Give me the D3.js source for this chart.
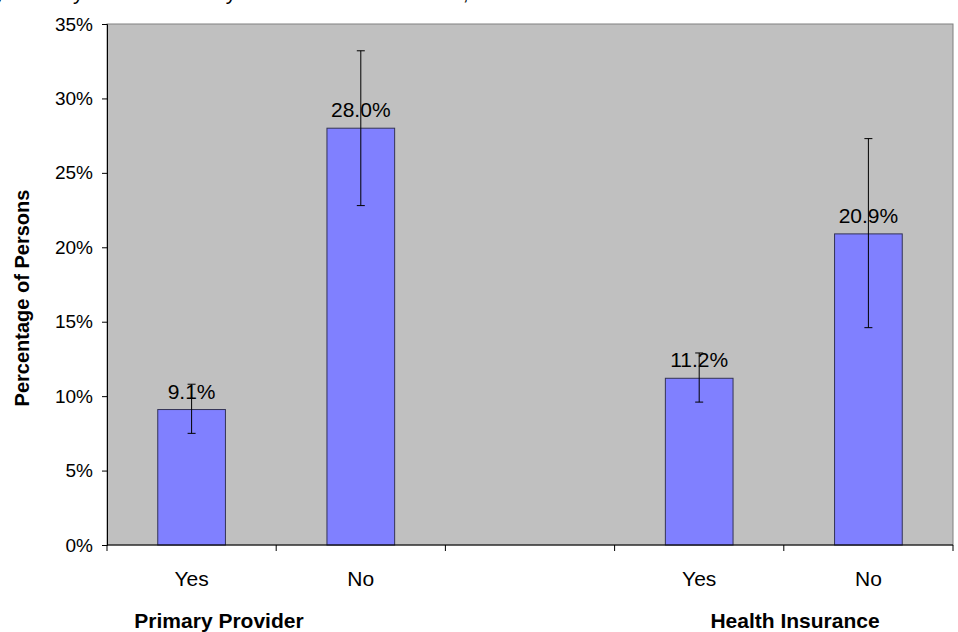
<!DOCTYPE html>
<html>
<head>
<meta charset="utf-8">
<script src="https://cdn.jsdelivr.net/npm/d3@7"></script>
<style>
  body { margin: 0; background: #fff; }
  text { font-family: Arial, "Liberation Sans", sans-serif; fill: #000; }
</style>
</head>
<body>
<script>
const width = 958
const height = 632

// data
const categories = ['ppYes', 'ppNo', 'gap', 'hiYes', 'hiNo']
const tickLabels = ['Yes', 'No', '', 'Yes', 'No']
const values = [9.1, 28.0, null, 11.2, 20.9]
const errLow = [7.5, 22.8, null, 9.6, 14.6]
const errHigh = [10.8, 33.2, null, 12.9, 27.3]
const groupLabels = ['Primary Provider', 'Health Insurance']
const yTicks = [0, 5, 10, 15, 20, 25, 30, 35]

const margin = {top: 24, right: 5, bottom: 87, left: 107}

const svg = d3.select('body')
    .append('svg')
    .attr('width', width)
    .attr('height', height)

const x = d3.scaleBand()
    .domain(categories)
    .range([margin.left, width - margin.right])
    .paddingInner(0.6)
    .paddingOuter(0.3)

const y = d3.scaleLinear()
    .domain([0, 35])
    .range([height - margin.bottom, margin.top])

// title, cut off at the top edge like the source image
svg.append('text')
    .attr('x', 527)
    .attr('y', 0)
    .attr('text-anchor', 'end')
    .style('font-size', '21px')
    .text('with a usual source of care, by Primary Provider and by Health Insurance status, 1999.')

// plot area
svg.append('rect')
    .attr('x', margin.left)
    .attr('y', margin.top)
    .attr('width', width - margin.right - margin.left)
    .attr('height', height - margin.bottom - margin.top)
    .attr('fill', '#c0c0c0')
    .attr('stroke', '#808080')
    .attr('stroke-width', 1)

// bars
const idx = d3.range(categories.length).filter(i => values[i] !== null)

svg.selectAll('rect.bar')
    .data(idx)
    .enter()
    .append('rect')
    .attr('class', 'bar')
    .attr('x', i => x(categories[i]))
    .attr('y', i => y(values[i]))
    .attr('width', x.bandwidth())
    .attr('height', i => y(0) - y(values[i]))
    .attr('fill', '#8080ff')
    .attr('stroke', '#333355')
    .attr('stroke-width', 1)

// data labels
svg.selectAll('text.lbl')
    .data(idx)
    .enter()
    .append('text')
    .attr('class', 'lbl')
    .attr('x', i => x(categories[i]) + x.bandwidth() / 2)
    .attr('y', i => y(values[i]) - 11)
    .attr('text-anchor', 'middle')
    .style('font-size', '21px')
    .text(i => values[i].toFixed(1) + '%')

// error bars
const err = svg.selectAll('g.err')
    .data(idx)
    .enter()
    .append('g')
    .attr('class', 'err')
    .attr('stroke', '#000')
    .attr('stroke-width', 1)

err.append('line')
    .attr('x1', i => x(categories[i]) + x.bandwidth() / 2)
    .attr('x2', i => x(categories[i]) + x.bandwidth() / 2)
    .attr('y1', i => y(errLow[i]))
    .attr('y2', i => y(errHigh[i]))

err.selectAll('line.cap')
    .data(i => [[i, errLow[i]], [i, errHigh[i]]])
    .enter()
    .append('line')
    .attr('class', 'cap')
    .attr('x1', d => x(categories[d[0]]) + x.bandwidth() / 2 - 4)
    .attr('x2', d => x(categories[d[0]]) + x.bandwidth() / 2 + 4)
    .attr('y1', d => y(d[1]))
    .attr('y2', d => y(d[1]))

// y axis
const yAxis = svg.append('g')
    .attr('transform', `translate(${margin.left},0)`)
    .call(d3.axisLeft(y).tickValues(yTicks).tickSize(5).tickFormat(d => d + '%'))

yAxis.select('.domain').attr('stroke', '#000')
yAxis.selectAll('.tick line').attr('stroke', '#000')
yAxis.selectAll('.tick text')
    .attr('x', -14)
    .style('font-size', '19px')
    .style('font-family', 'Arial, "Liberation Sans", sans-serif')

// x axis, ticks on category boundaries
const step = x.step()
const bounds = d3.range(categories.length + 1)
    .map(i => margin.left + i * step)

svg.append('line')
    .attr('x1', margin.left)
    .attr('x2', width - margin.right)
    .attr('y1', y(0))
    .attr('y2', y(0))
    .attr('stroke', '#000')

svg.selectAll('line.xtick')
    .data(bounds)
    .enter()
    .append('line')
    .attr('class', 'xtick')
    .attr('x1', d => d)
    .attr('x2', d => d)
    .attr('y1', y(0))
    .attr('y2', y(0) + 6)
    .attr('stroke', '#000')

svg.selectAll('text.xlab')
    .data(categories)
    .enter()
    .append('text')
    .attr('class', 'xlab')
    .attr('x', d => x(d) + x.bandwidth() / 2)
    .attr('y', 586)
    .attr('text-anchor', 'middle')
    .style('font-size', '21px')
    .text((d, i) => tickLabels[i])

// group titles
const groupX = [219, 795]
svg.selectAll('text.group')
    .data(groupLabels)
    .enter()
    .append('text')
    .attr('class', 'group')
    .attr('x', (d, i) => groupX[i])
    .attr('y', 628)
    .attr('text-anchor', 'middle')
    .style('font-size', '21px')
    .style('font-weight', 'bold')
    .text(d => d)

// y title
svg.append('text')
    .attr('transform', 'translate(29,298) rotate(-90)')
    .attr('text-anchor', 'middle')
    .style('font-size', '20px')
    .style('font-weight', 'bold')
    .text('Percentage of Persons')
</script>
</body>
</html>
